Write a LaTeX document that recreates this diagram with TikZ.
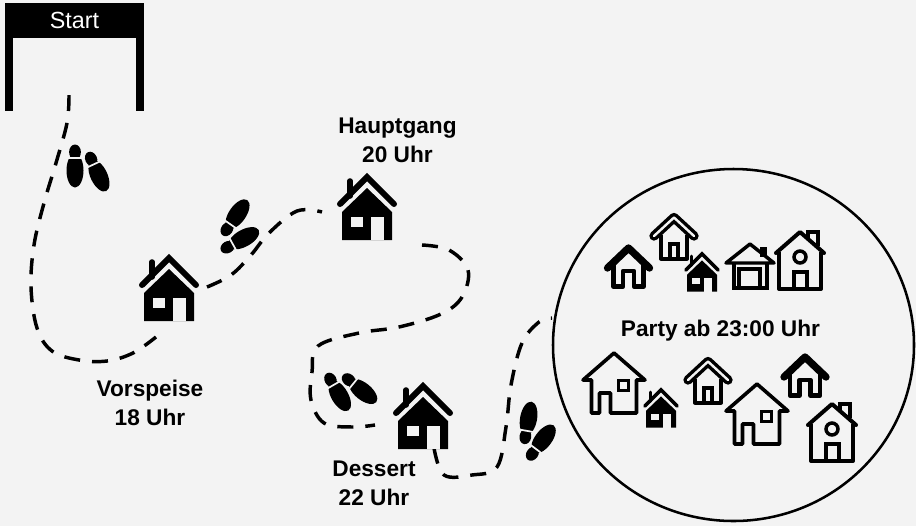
\documentclass[tikz,border=0pt]{standalone}
\usepackage{fontspec}
\setmainfont{Liberation Sans}
\usetikzlibrary{positioning}
\definecolor{papier}{HTML}{F3F3F3}
\tikzset{
    labeltext/.style={font=\bfseries\fontsize{17}{21.75}\selectfont, align=center, text=black},
    startbar/.style={fill=black, text=white, minimum width=104.25pt, minimum height=26.25pt, inner sep=0pt, font=\fontsize{17.5}{18}\selectfont},
    weg/.style={line width=2.6pt, dash pattern=on 12pt off 9pt},
    pics/hausvoll/.style={code={
        \begin{scope}[scale=#1]
            \fill (-25,38) -- (0,14) -- (25,38) -- (25,66) -- (-25,66) -- cycle;
            \fill[papier] (-16,43) rectangle (-4,53);
            \fill[papier] (4,43) rectangle (17,66);
            \draw[line width=#1*4.5pt, line cap=round, line join=miter] (-27,30) -- (0,3) -- (27,30);
            \draw[line width=#1*4.2pt, line cap=round] (-17,7) -- (-17,22);
        \end{scope}
    }},
    pics/hausdick/.style={code={
        \draw[line width=5.5pt, line cap=round, line join=round] (-21,25) -- (0,5) -- (21,25);
        \draw[line width=3.5pt, line join=round] (-15,22) -- (-15,43.5) -- (-5.5,43.5) -- (-5.5,28) -- (5.5,28) -- (5.5,43.5) -- (15,43.5) -- (15,22);
        \fill[papier] (-2.5,30) rectangle (2.5,41.5);
    }},
    pics/hausdoppel/.style={code={
        \draw[line width=7pt, line cap=round, line join=round] (-20,23) -- (0,4.5) -- (20,23);
        \draw[papier, line width=1.8pt, line cap=round, line join=round] (-20,23) -- (0,4.5) -- (20,23);
        \draw[line width=3pt, line join=round] (-13,22) -- (-13,45.5) -- (13,45.5) -- (13,22);
        \draw[line width=3pt] (-4,45.5) -- (-4,31) -- (4,31) -- (4,45.5);
    }},
    pics/hausgarage/.style={code={
        \draw[line width=2.6pt, line join=round] (-24,20) -- (0,1) -- (24,20) -- cycle;
        \draw[line width=2.6pt] (-16,20) -- (-16,45) -- (17,45) -- (17,20);
        \draw[line width=2.4pt] (-11,44) -- (-11,26) -- (10,26) -- (10,44);
        \fill (10,4) rectangle (17,14);
    }},
    pics/hausrund/.style={code={
        \draw[line width=3pt, line join=round, line cap=round] (-24,22) -- (0,1) -- (24,22);
        \draw[line width=3pt, line join=round] (-21,21) -- (-21,58) -- (21,58) -- (21,21);
        \draw[line width=2.6pt] (0,26) circle (6);
        \draw[line width=2.8pt] (-6,58) -- (-6,41) -- (7,41) -- (7,58);
        \draw[line width=3pt] (8,7) -- (8,1) -- (18,1) -- (18,15);
    }},
    pics/hausgross/.style={code={
        \draw[line width=2.7pt, line join=round, line cap=round] (-22.5,28) -- (-31,28) -- (0,1) -- (31,28) -- (22.5,28) -- (22.5,61) -- (-3.5,61) -- (-3.5,41) -- (-14.5,41) -- (-14.5,61) -- (-22.5,61) -- cycle;
        \draw[line width=2.6pt] (4.5,28.5) rectangle (14.5,38.5);
    }},
    pics/schuh/.style={code={
        \fill (0,-2.5) ellipse [x radius=8.5, y radius=17];
        \fill (0,-21) ellipse [x radius=5.9, y radius=7.5];
        \draw[papier, line width=1.3pt] (-9,-15) -- (9,-15);
    }}
}
\begin{document}
\begin{tikzpicture}[x=0.75pt, y=-0.75pt]
    \fill[papier] (0,0) rectangle (916,526);
    \useasboundingbox (0,0) rectangle (916,526);
    % Startbogen
    \node[startbar] (start) at (74.5,20.5) {Start};
    \fill (5,38) rectangle (13,111);
    \fill (136,38) rectangle (144,111);
    % Wege
    \draw[weg] plot[smooth, tension=0.6] coordinates {(69,95) (67,123) (56,163) (44,203) (34,245) (31,287) (37,328) (52,351) (79,360) (107,361) (133,353) (156,337)};
    \draw[weg] plot[smooth, tension=0.6] coordinates {(207,287) (231,275) (251,255) (269,233) (297,211) (322,212)};
    \draw[weg] plot[smooth, tension=0.6] coordinates {(422,245) (449,250) (468,270) (462,297) (441,314) (399,327) (359,333) (318,346) (312,372) (311,400) (324,423) (352,427) (375,425)};
    \draw[weg] plot[smooth, tension=0.6] coordinates {(434,448) (444,475) (472,475) (497,467) (506,427) (511,385) (522,343) (539,322) (552,318)};
    % Schuhe
    \pic at (75,173) {schuh};
    \pic[rotate=25] at (100,178) {schuh};
    \pic[rotate=145] at (239,212) {schuh};
    \pic[rotate=119] at (246,237) {schuh};
    \pic[rotate=30] at (341,398) {schuh};
    \pic[rotate=51] at (365,393) {schuh};
    \pic[rotate=170] at (529,416) {schuh};
    \pic[rotate=143] at (545,437) {schuh};
    % Stationen
    \pic (vorspeise) at (169,255) {hausvoll=1};
    \pic (hauptgang) at (367,174) {hausvoll=1};
    \pic (dessert) at (423,383) {hausvoll=1};
    \node[labeltext] (vorspeisetext) at (150,403) {Vorspeise\\18 Uhr};
    \node[labeltext] (hauptgangtext) at (397.5,140) {Hauptgang\\20 Uhr};
    \node[labeltext] (desserttext) at (374,483) {Dessert\\22 Uhr};
    % Party
    \draw[line width=1.9pt] (733.5,345) ellipse [x radius=180.5, y radius=176];
    \node[labeltext] (partytext) at (720.5,330.5) {Party ab 23:00 Uhr};
    \pic at (628.5,243) {hausdick};
    \pic at (674,213) {hausdoppel};
    \pic at (702,252) {hausvoll=0.6};
    \pic at (750,243) {hausgarage};
    \pic at (800,231) {hausrund};
    \pic at (614,352) {hausgross};
    \pic at (661,388) {hausvoll=0.6};
    \pic at (708,357) {hausdoppel};
    \pic at (757,383) {hausgross};
    \pic at (805,352) {hausdick};
    \pic at (832,403) {hausrund};
\end{tikzpicture}
\end{document}
